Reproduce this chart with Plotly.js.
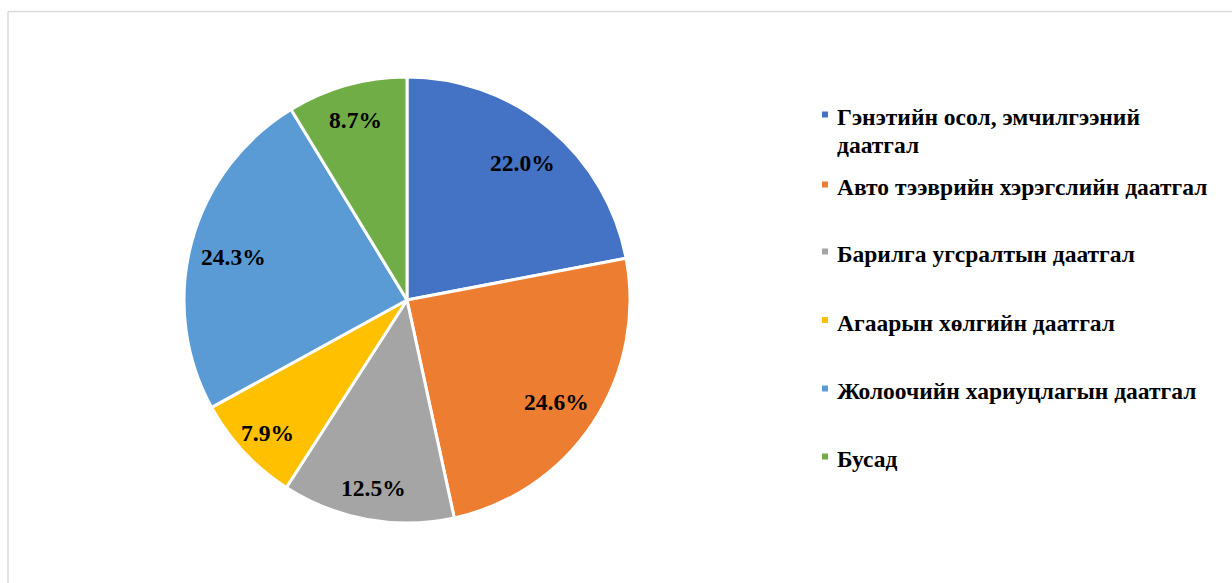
<!DOCTYPE html>
<html>
<head>
<meta charset="utf-8">
<script src="https://cdn.plot.ly/plotly-3.0.1.min.js"></script>
<style>
  html, body { margin: 0; padding: 0; background: #fff; }
  #chart { width: 1232px; height: 583px; }
</style>
</head>
<body>
<div id="chart"></div>
<script>
// ---- data ----
const labels = [
  "Гэнэтийн осол, эмчилгээний даатгал",
  "Авто тээврийн хэрэгслийн даатгал",
  "Барилга угсралтын даатгал",
  "Агаарын хөлгийн даатгал",
  "Жолоочийн хариуцлагын даатгал",
  "Бусад"
];
const values = [22.0, 24.6, 12.5, 7.9, 24.3, 8.7];
const colors = ["#4472C4", "#ED7D31", "#A5A5A5", "#FFC000", "#5B9BD5", "#70AD47"];
// legend labels with the original line breaks
const legendLines = [
  ["Гэнэтийн осол, эмчилгээний", "даатгал"],
  ["Авто тээврийн хэрэгслийн даатгал"],
  ["Барилга угсралтын даатгал"],
  ["Агаарын хөлгийн даатгал"],
  ["Жолоочийн хариуцлагын даатгал"],
  ["Бусад"]
];

// ---- layout helpers (pixel -> paper) ----
const W = 1232, H = 583;
const px = x => x / W;
const py = y => 1 - y / H;
const FONT = "Liberation Serif";
const FS = 23.5;

const cx = 407, cy = 300, R = 223;

const trace = {
  type: "pie",
  labels: labels,
  values: values,
  sort: false,
  direction: "clockwise",
  rotation: 0,
  marker: { colors: colors, line: { color: "#ffffff", width: 3 } },
  textinfo: "none",
  hoverinfo: "label+percent",
  showlegend: false,
  domain: { x: [px(cx - R), px(cx + R)], y: [py(cy + R), py(cy - R)] }
};

const shapes = [];
const annotations = [];

// data labels at the middle angle of each slice (computed from values);
// smaller slices get their label a little further out, as in the original
const total = values.reduce((a, b) => a + b, 0);
let cum = 0;
values.forEach((v, i) => {
  const share = v / total;
  const mid = (cum + v / 2) / total * 2 * Math.PI;
  cum += v;
  const r = R * (0.88 - 0.3 * share);
  const lx = cx + r * Math.sin(mid);
  const ly = cy - r * Math.cos(mid);
  annotations.push({
    xref: "paper", yref: "paper", x: px(lx), y: py(ly + 3),
    xanchor: "center", yanchor: "middle", showarrow: false,
    text: v.toFixed(1) + "%",
    font: { family: FONT, size: FS, color: "#000000", weight: "bold" }
  });
});

// manual legend (positions are layout, not data)
const baseY = [125, 195, 262, 330.5, 399, 467];
const lineGap = 28;
baseY.forEach((b, i) => {
  shapes.push({
    type: "rect", xref: "paper", yref: "paper",
    x0: px(822), x1: px(828), y0: py(b - 7.5), y1: py(b - 13.5),
    fillcolor: colors[i], line: { width: 0 }
  });
  legendLines[i].forEach((t, k) => {
    annotations.push({
      xref: "paper", yref: "paper", x: px(835), y: py(b + k * lineGap - 23),
      xanchor: "left", yanchor: "top", align: "left", showarrow: false,
      text: t,
      font: { family: FONT, size: FS, color: "#000000", weight: "bold" }
    });
  });
});

// chart area border (top and left visible)
shapes.push({ type: "line", xref: "paper", yref: "paper",
  x0: px(8), x1: px(1240), y0: py(11.5), y1: py(11.5), line: { color: "#d9d9d9", width: 1.5 } });
shapes.push({ type: "line", xref: "paper", yref: "paper",
  x0: px(8), x1: px(8), y0: py(11.5), y1: py(590), line: { color: "#d9d9d9", width: 1.5 } });

const layout = {
  width: W, height: H,
  margin: { l: 0, r: 0, t: 0, b: 0 },
  paper_bgcolor: "#ffffff",
  plot_bgcolor: "#ffffff",
  showlegend: false,
  shapes: shapes,
  annotations: annotations
};

Plotly.newPlot("chart", [trace], layout, { displayModeBar: false, staticPlot: true });
</script>
</body>
</html>
